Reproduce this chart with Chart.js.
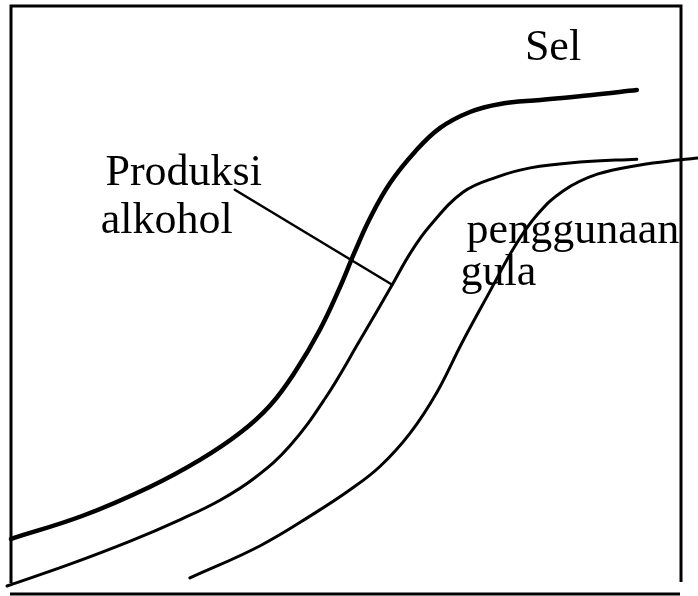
<!DOCTYPE html>
<html>
<head>
<meta charset="utf-8">
<script src="https://cdn.jsdelivr.net/npm/chart.js@4/dist/chart.umd.min.js"></script>
<style>
  html, body { margin: 0; padding: 0; background: #ffffff; }
  #wrap { width: 698px; height: 596px; }
</style>
</head>
<body>
<div id="wrap"><canvas id="c" width="698" height="596"></canvas></div>
<script>
// ---- data (time on x, amount on y; 0..100 = inside the frame) ----
const selX      = [0.0, 10.7, 20.7, 28.2, 34.2, 38.7, 42.4, 46.1, 49.1, 51.3, 53.6, 56.6, 60.3, 64.0, 68.5, 73.0, 79.0, 86.4, 93.4];
const selY      = [7.5, 11.5, 16.5, 21.2, 25.9, 30.7, 36.5, 43.8, 51.2, 57.3, 63.2, 69.3, 74.7, 78.8, 81.6, 83.0, 83.7, 84.5, 85.4];
const alkoholX  = [-0.6, 8.8, 17.8, 25.2, 31.2, 36.4, 41.6, 46.9, 52.1, 56.9, 59.6, 62.5, 67.5, 72.5, 77.5, 84.9, 93.4];
const alkoholY  = [-0.7, 3.1, 7.1, 10.8, 14.2, 18.1, 23.6, 31.9, 42.0, 51.6, 57.1, 61.8, 67.7, 70.3, 71.9, 72.9, 73.4];
const gulaX     = [26.7, 37.2, 45.4, 50.6, 55.1, 59.6, 63.6, 67.3, 71.5, 75.2, 78.5, 82.4, 87.5, 93.9, 99.9, 102.5];
const gulaY     = [0.7, 6.3, 12.0, 16.0, 20.1, 25.9, 33.0, 41.5, 50.5, 58.3, 63.7, 67.9, 70.8, 72.4, 73.3, 73.6];
const leaderX   = [33.4, 56.9];
const leaderY   = [68.1, 51.6];
const labelText = ["Sel", "Produksi", "alkohol", "penggunaan", "gula"];

// ---- label anchors (data units, left/baseline) ----
const labelAt = [
  { x: 76.7, y: 90.6 },
  { x: 14.1, y: 68.9 },
  { x: 13.4, y: 60.6 },
  { x: 68.0, y: 58.9 },
  { x: 67.1, y: 51.6 }
];

function pts(xs, ys) { return xs.map((x, i) => ({ x: x, y: ys[i] })); }

const framePlugin = {
  id: 'frame',
  beforeDatasetsDraw(chart) {
    const { ctx, chartArea: a } = chart;
    ctx.save();
    ctx.strokeStyle = '#000';
    ctx.lineWidth = 3;
    ctx.lineCap = 'butt';
    ctx.beginPath();
    ctx.moveTo(a.left - 1.5, a.top);
    ctx.lineTo(a.right + 1.5, a.top);
    ctx.moveTo(a.left, a.top);
    ctx.lineTo(a.left, a.bottom + 1);
    ctx.moveTo(a.right, a.top);
    ctx.lineTo(a.right, a.bottom);
    ctx.moveTo(a.left - 1, a.bottom + 12);
    ctx.lineTo(a.right - 1, a.bottom + 12);
    ctx.stroke();
    ctx.restore();
  }
};

const labelPlugin = {
  id: 'labels',
  afterDatasetsDraw(chart) {
    const { ctx } = chart;
    const xs = chart.scales.x, ys = chart.scales.y;
    ctx.save();
    ctx.fillStyle = '#000';
    ctx.font = '44px "Liberation Serif", "Times New Roman", serif';
    ctx.textAlign = 'left';
    ctx.textBaseline = 'alphabetic';
    labelText.forEach((t, i) => {
      ctx.fillText(t, xs.getPixelForValue(labelAt[i].x), ys.getPixelForValue(labelAt[i].y));
    });
    ctx.restore();
  }
};

const common = { showLine: true, pointRadius: 0, pointHoverRadius: 0, borderColor: '#000', fill: false, clip: false, borderCapStyle: 'round', borderJoinStyle: 'round' };

new Chart(document.getElementById('c'), {
  type: 'scatter',
  data: {
    datasets: [
      Object.assign({ label: 'Sel', data: pts(selX, selY), borderWidth: 4.5, tension: 0.4 }, common),
      Object.assign({ label: 'Produksi alkohol', data: pts(alkoholX, alkoholY), borderWidth: 3, tension: 0.4 }, common),
      Object.assign({ label: 'penggunaan gula', data: pts(gulaX, gulaY), borderWidth: 3, tension: 0.4 }, common),
      Object.assign({ label: 'leader', data: pts(leaderX, leaderY), borderWidth: 2.5, tension: 0 }, common)
    ]
  },
  options: {
    responsive: false,
    animation: false,
    events: [],
    layout: { padding: { left: 11, right: 17, top: 6, bottom: 14 } },
    plugins: { legend: { display: false }, tooltip: { enabled: false } },
    scales: {
      x: { type: 'linear', min: 0, max: 100, display: false },
      y: { type: 'linear', min: 0, max: 100, display: false }
    }
  },
  plugins: [framePlugin, labelPlugin]
});
</script>
</body>
</html>
